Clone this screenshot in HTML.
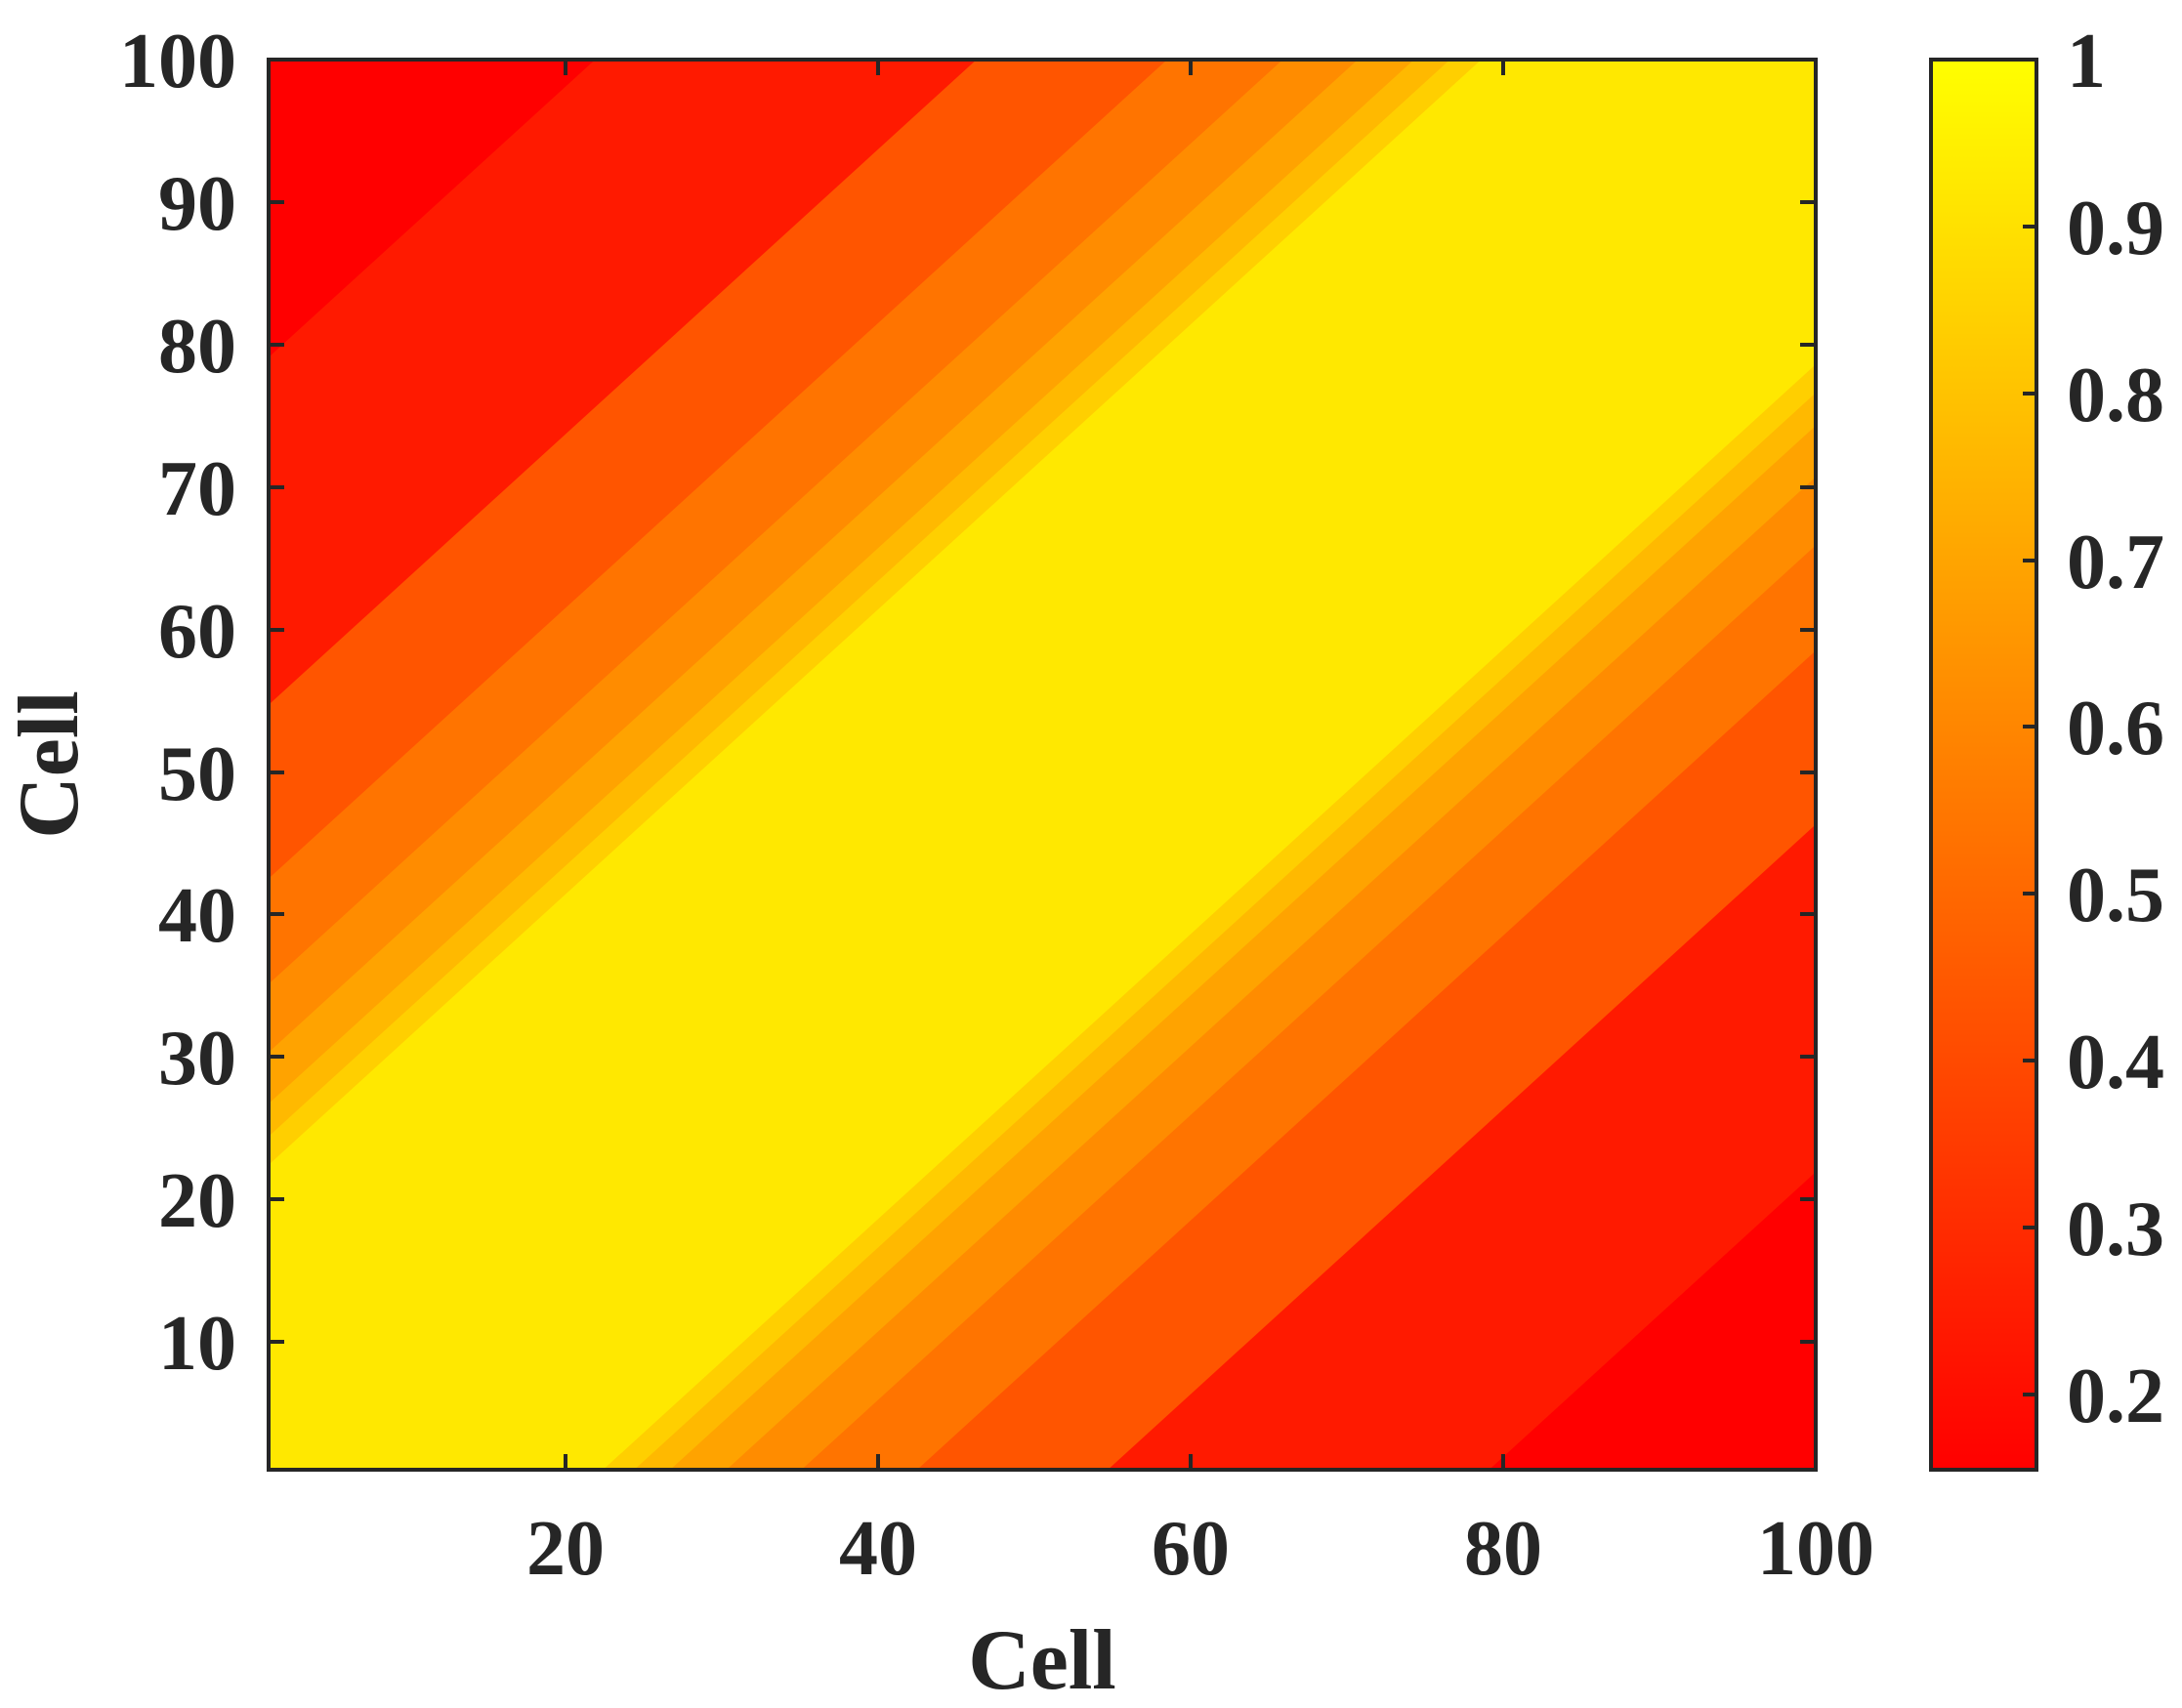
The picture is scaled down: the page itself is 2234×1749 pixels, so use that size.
<!DOCTYPE html>
<html><head><meta charset="utf-8"><style>html,body{margin:0;padding:0;background:#fff;width:2234px;height:1749px;overflow:hidden}svg{display:block}</style></head>
<body>
<svg width="2234" height="1749" viewBox="0 0 2234 1749" xmlns="http://www.w3.org/2000/svg" font-family="Liberation Serif, serif" font-weight="bold" fill="#262626">
<defs>
<clipPath id="c"><rect x="275" y="61" width="1584" height="1444"/></clipPath>
<linearGradient id="g" x1="0" y1="1" x2="0" y2="0"><stop offset="0" stop-color="#ff0000"/><stop offset="1" stop-color="#ffff00"/></linearGradient>
</defs>
<rect x="275" y="61" width="1584" height="1444" fill="#ffe800"/>
<g clip-path="url(#c)">
<g transform="translate(275,1505) scale(16,-14.586) translate(-1,-1)">
<polygon fill="#ffcf00" points="-100,-78.6 200,221.4 -100,200"/><polygon fill="#ffcf00" points="-78.6,-100 221.4,200 200,-100"/>
<polygon fill="#ffb900" points="-100,-76.6 200,223.4 -100,200"/><polygon fill="#ffb900" points="-76.6,-100 223.4,200 200,-100"/>
<polygon fill="#ffa300" points="-100,-74.3 200,225.7 -100,200"/><polygon fill="#ffa300" points="-74.3,-100 225.7,200 200,-100"/>
<polygon fill="#ff8c00" points="-100,-70.7 200,229.3 -100,200"/><polygon fill="#ff8c00" points="-70.7,-100 229.3,200 200,-100"/>
<polygon fill="#ff7400" points="-100,-65.9 200,234.1 -100,200"/><polygon fill="#ff7400" points="-65.9,-100 234.1,200 200,-100"/>
<polygon fill="#ff5500" points="-100,-58.5 200,241.5 -100,200"/><polygon fill="#ff5500" points="-58.5,-100 241.5,200 200,-100"/>
<polygon fill="#ff1a00" points="-100,-46.3 200,253.7 -100,200"/><polygon fill="#ff1a00" points="-46.3,-100 253.7,200 200,-100"/>
<polygon fill="#ff0000" points="-100,-21.9 200,278.1 -100,200"/><polygon fill="#ff0000" points="-21.9,-100 278.1,200 200,-100"/>
</g></g>
<g stroke="#262626" stroke-width="4" fill="none">
<rect x="275" y="61" width="1584" height="1444"/>
<path d="M579,1505v-16M899,1505v-16M1219,1505v-16M1539,1505v-16M579,61v16M899,61v16M1219,61v16M1539,61v16
M275,1374h16M275,1228h16M275,1082h16M275,936h16M275,791h16M275,645h16M275,499h16M275,353h16M275,207h16
M1859,1374h-16M1859,1228h-16M1859,1082h-16M1859,936h-16M1859,791h-16M1859,645h-16M1859,499h-16M1859,353h-16M1859,207h-16"/>
</g>
<rect x="1977" y="61" width="108" height="1444" fill="url(#g)" stroke="#262626" stroke-width="4"/>
<path stroke="#262626" stroke-width="4" d="M2085,1428h-14M2085,1257h-14M2085,1086h-14M2085,915h-14M2085,744h-14M2085,574h-14M2085,403h-14M2085,232h-14M2085,61h-14"/>
<g font-size="80" text-anchor="middle">
<text x="579" y="1612">20</text><text x="899" y="1612">40</text><text x="1219" y="1612">60</text><text x="1539" y="1612">80</text><text x="1859" y="1612">100</text>
</g>
<g font-size="80" text-anchor="end">
<text x="242" y="1402">10</text><text x="242" y="1256">20</text><text x="242" y="1110">30</text><text x="242" y="964">40</text><text x="242" y="819">50</text><text x="242" y="673">60</text><text x="242" y="527">70</text><text x="242" y="381">80</text><text x="242" y="235">90</text><text x="242" y="89">100</text>
</g>
<g font-size="80">
<text x="2116" y="1456">0.2</text><text x="2116" y="1285">0.3</text><text x="2116" y="1114">0.4</text><text x="2116" y="943">0.5</text><text x="2116" y="772">0.6</text><text x="2116" y="602">0.7</text><text x="2116" y="431">0.8</text><text x="2116" y="260">0.9</text><text x="2116" y="89">1</text>
</g>
<text x="1067" y="1729" font-size="88" text-anchor="middle">Cell</text>
<text transform="translate(79,783) rotate(-90)" font-size="88" text-anchor="middle">Cell</text>
</svg>
</body></html>
